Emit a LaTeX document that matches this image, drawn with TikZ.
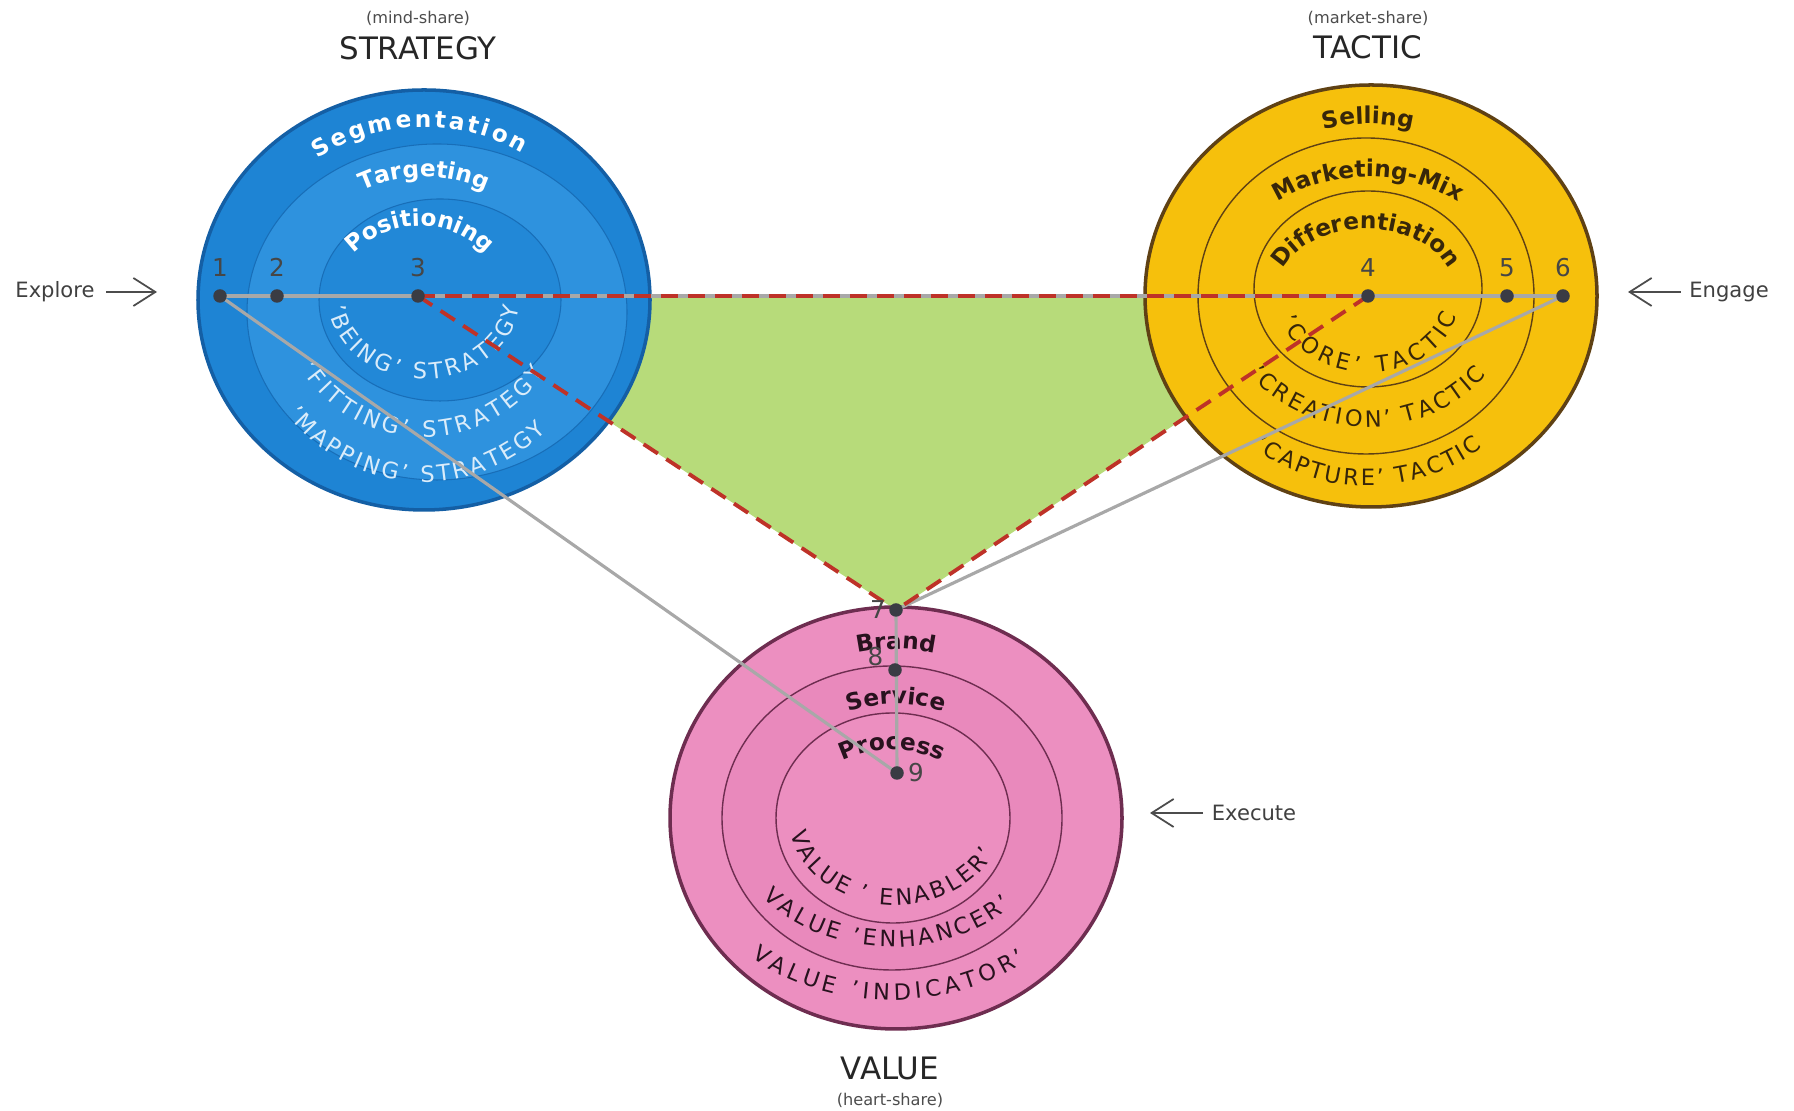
\documentclass[tikz,border=0pt]{standalone}
\usepackage{fontspec}
\setmainfont{DejaVu Sans}
\usetikzlibrary{arrows.meta,decorations.text}
\definecolor{mixBlue}{RGB}{30,132,212}
\definecolor{mixBlueRing}{RGB}{46,146,222}
\definecolor{mixBlueCore}{RGB}{34,136,215}
\definecolor{mixBlueEdge}{RGB}{20,95,165}
\definecolor{mixBlueText}{RGB}{218,236,250}
\definecolor{mixYellow}{RGB}{246,192,12}
\definecolor{mixYellowEdge}{RGB}{95,65,20}
\definecolor{mixYellowText}{RGB}{55,38,10}
\definecolor{mixPink}{RGB}{236,143,192}
\definecolor{mixPinkRing}{RGB}{233,137,188}
\definecolor{mixPinkEdge}{RGB}{110,45,80}
\definecolor{mixPinkText}{RGB}{40,18,30}
\definecolor{mixGreen}{RGB}{183,219,122}
\definecolor{dashRed}{RGB}{190,50,40}
\definecolor{lineGray}{RGB}{168,168,168}
\definecolor{dotGray}{RGB}{58,60,68}
\definecolor{numGray}{RGB}{70,70,70}

\begin{document}
\begin{tikzpicture}[x=0.1mm, y=0.1mm,
  toptext/.style 2 args={decorate, decoration={text along path, text align=center,
              text={|\color{#1}\bfseries\fontsize{6.6}{7}\selectfont|#2}}},
  bottext/.style 2 args={decorate, decoration={text along path, text align=fit to path,
              text={|\color{#1}\fontsize{6.4}{7}\selectfont|#2}}},
  dot/.style={circle, fill=dotGray, inner sep=0pt, minimum size=1.35mm},
  num/.style={text=numGray, inner sep=0pt, font=\fontsize{7}{8}\selectfont},
  grayline/.style={draw=lineGray, line width=0.9pt},
  redline/.style={draw=dashRed, line width=1.1pt, dash pattern=on 1.7mm off 1mm},
  pointer/.style={-{Straight Barb[length=2.2mm, width=2.8mm]}, line width=0.5pt, draw=black!70},
  side/.style={text=black!75, font=\fontsize{6}{7}\selectfont},
  title/.style={text=black!85, font=\fontsize{8.8}{10}\selectfont},
  subtitle/.style={text=black!70, font=\fontsize{4.6}{5}\selectfont}
]
\useasboundingbox (0,0) rectangle (1794,1111);

% points of the triangle
\coordinate (p1) at (220,815);
\coordinate (p2) at (277,815);
\coordinate (p3) at (418,815);
\coordinate (p4) at (1368,815);
\coordinate (p5) at (1507,815);
\coordinate (p6) at (1563,815);
\coordinate (p7) at (896,501);
\coordinate (p8) at (895,441);
\coordinate (p9) at (897,338);

\fill[mixGreen] (p3) -- (p4) -- (p7) -- cycle;

% strategy
\filldraw[fill=mixBlue, draw=mixBlueEdge, line width=1pt] (424,811) ellipse[x radius=226, y radius=210];
\filldraw[fill=mixBlueRing, draw=mixBlueEdge!60!mixBlue, line width=0.3pt] (437,799) ellipse[x radius=190, y radius=168];
\filldraw[fill=mixBlueCore, draw=mixBlueEdge!60!mixBlue, line width=0.3pt] (440,811) ellipse[x radius=121, y radius=101];

% tactic
\filldraw[fill=mixYellow, draw=mixYellowEdge, line width=1pt] (1371,815) ellipse[x radius=226, y radius=211];
\draw[mixYellowEdge, line width=0.4pt] (1366,815) ellipse[x radius=168, y radius=158];
\draw[mixYellowEdge, line width=0.4pt] (1368,822) ellipse[x radius=114, y radius=98];

% value
\filldraw[fill=mixPink, draw=mixPinkEdge, line width=1pt] (896,293) ellipse[x radius=226, y radius=211];
\filldraw[fill=mixPinkRing, draw=mixPinkEdge, line width=0.4pt] (892,293) ellipse[x radius=170, y radius=152];
\filldraw[fill=mixPink, draw=mixPinkEdge, line width=0.4pt] (893,293) ellipse[x radius=117, y radius=105];

% ring texts
\path[toptext={white}{Segmentation}, decoration={text align=fit to path}] (424,811) ++(125:185 and 173) arc[start angle=125, end angle=58, x radius=185, y radius=173];
\path[toptext={white}{Targeting}] (424,811) ++(170:135 and 123) arc[start angle=170, end angle=10, x radius=135, y radius=123];
\path[toptext={white}{Positioning}] (420,799) ++(175:90 and 86) arc[start angle=175, end angle=5, x radius=90, y radius=86];
\path[bottext={mixBlueText}{'BEING' STRATEGY}] (424,811) ++(185:95 and 79) arc[start angle=185, end angle=355, x radius=95, y radius=79];
\path[bottext={mixBlueText}{'FITTING' STRATEGY}] (424,811) ++(210:142 and 137) arc[start angle=210, end angle=328, x radius=142, y radius=137];
\path[bottext={mixBlueText}{'MAPPING' STRATEGY}] (424,811) ++(219:176 and 182) arc[start angle=219, end angle=314, x radius=176, y radius=182];

\path[toptext={mixYellowText}{Selling}] (1368,815) ++(170:180 and 172) arc[start angle=170, end angle=10, x radius=180, y radius=172];
\path[toptext={mixYellowText}{Marketing-Mix}] (1368,815) ++(175:147 and 119) arc[start angle=175, end angle=5, x radius=147, y radius=119];
\path[toptext={mixYellowText}{Differentiation}] (1366,821) ++(185:88 and 61) arc[start angle=185, end angle=-5, x radius=88, y radius=61];
\path[bottext={mixYellowText}{'CORE' TACTIC}] (1368,815) ++(198:92 and 77) arc[start angle=198, end angle=345, x radius=92, y radius=77];
\path[bottext={mixYellowText}{'CREATION' TACTIC}] (1368,815) ++(217:148 and 131) arc[start angle=217, end angle=323, x radius=148, y radius=131];
\path[bottext={mixYellowText}{'CAPTURE' TACTIC}] (1368,815) ++(233:190 and 190) arc[start angle=233, end angle=307, x radius=190, y radius=190];

\path[toptext={mixPinkText}{Brand}] (896,293) ++(150:175 and 169) arc[start angle=150, end angle=30, x radius=175, y radius=169];
\path[toptext={mixPinkText}{Service}] (896,293) ++(160:130 and 114) arc[start angle=160, end angle=20, x radius=130, y radius=114];
\path[toptext={mixPinkText}{Process}] (892,293) ++(170:90 and 68) arc[start angle=170, end angle=10, x radius=90, y radius=68];
\path[bottext={mixPinkText}{VALUE ' ENABLER'}] (896,293) ++(190:107 and 87) arc[start angle=190, end angle=336, x radius=107, y radius=87];
\path[bottext={mixPinkText}{VALUE 'ENHANCER'}] (892,293) ++(218:164 and 129) arc[start angle=218, end angle=317, x radius=164, y radius=129];
\path[bottext={mixPinkText}{VALUE 'INDICATOR'}] (892,293) ++(230:219 and 182) arc[start angle=230, end angle=308, x radius=219, y radius=182];

% connectors
\draw[grayline] (p1) -- (p6);
\draw[grayline] (p1) -- (p9);
\draw[grayline] (p6) -- (p7);
\draw[grayline] (p7) -- (p9);
\draw[redline] (p3) -- (p4);
\draw[redline] (p3) -- (p7);
\draw[redline] (p4) -- (p7);

% numbered points
\node[dot, label={[num, label distance=1.1mm]above:1}] (n1) at (p1) {};
\node[dot, label={[num, label distance=1.1mm]above:2}] (n2) at (p2) {};
\node[dot, label={[num, label distance=1.1mm]above:3}] (n3) at (p3) {};
\node[dot, label={[num, label distance=1.1mm]above:4}] (n4) at (p4) {};
\node[dot, label={[num, label distance=1.1mm]above:5}] (n5) at (p5) {};
\node[dot, label={[num, label distance=1.1mm]above:6}] (n6) at (p6) {};
\node[dot, label={[num, label distance=0.2mm]left:7}] (n7) at (p7) {};
\node[dot, label={[num, label distance=0.4mm]165:8}] (n8) at (p8) {};
\node[dot, label={[num, label distance=0.3mm]right:9}] (n9) at (p9) {};

% titles
\node[subtitle] (mindshare) at (418,1093) {(mind-share)};
\node[title] (strategy) at (418,1063) {STRATEGY};
\node[subtitle] (marketshare) at (1368,1093) {(market-share)};
\node[title] (tactic) at (1368,1064) {TACTIC};
\node[title] (value) at (890,43) {VALUE};
\node[subtitle] (heartshare) at (890,11) {(heart-share)};

% entry arrows
\node[side, inner sep=1.1mm] (explore) at (55,819) {Explore};
\coordinate (exploreTip) at (157,819);
\draw[pointer] (explore) -- (exploreTip);
\node[side, inner sep=0.8mm] (engage) at (1729,819) {Engage};
\coordinate (engageTip) at (1628,819);
\draw[pointer] (engage) -- (engageTip);
\node[side, inner sep=0.8mm] (execute) at (1254,298) {Execute};
\coordinate (executeTip) at (1150,298);
\draw[pointer] (execute) -- (executeTip);
\end{tikzpicture}
\end{document}
